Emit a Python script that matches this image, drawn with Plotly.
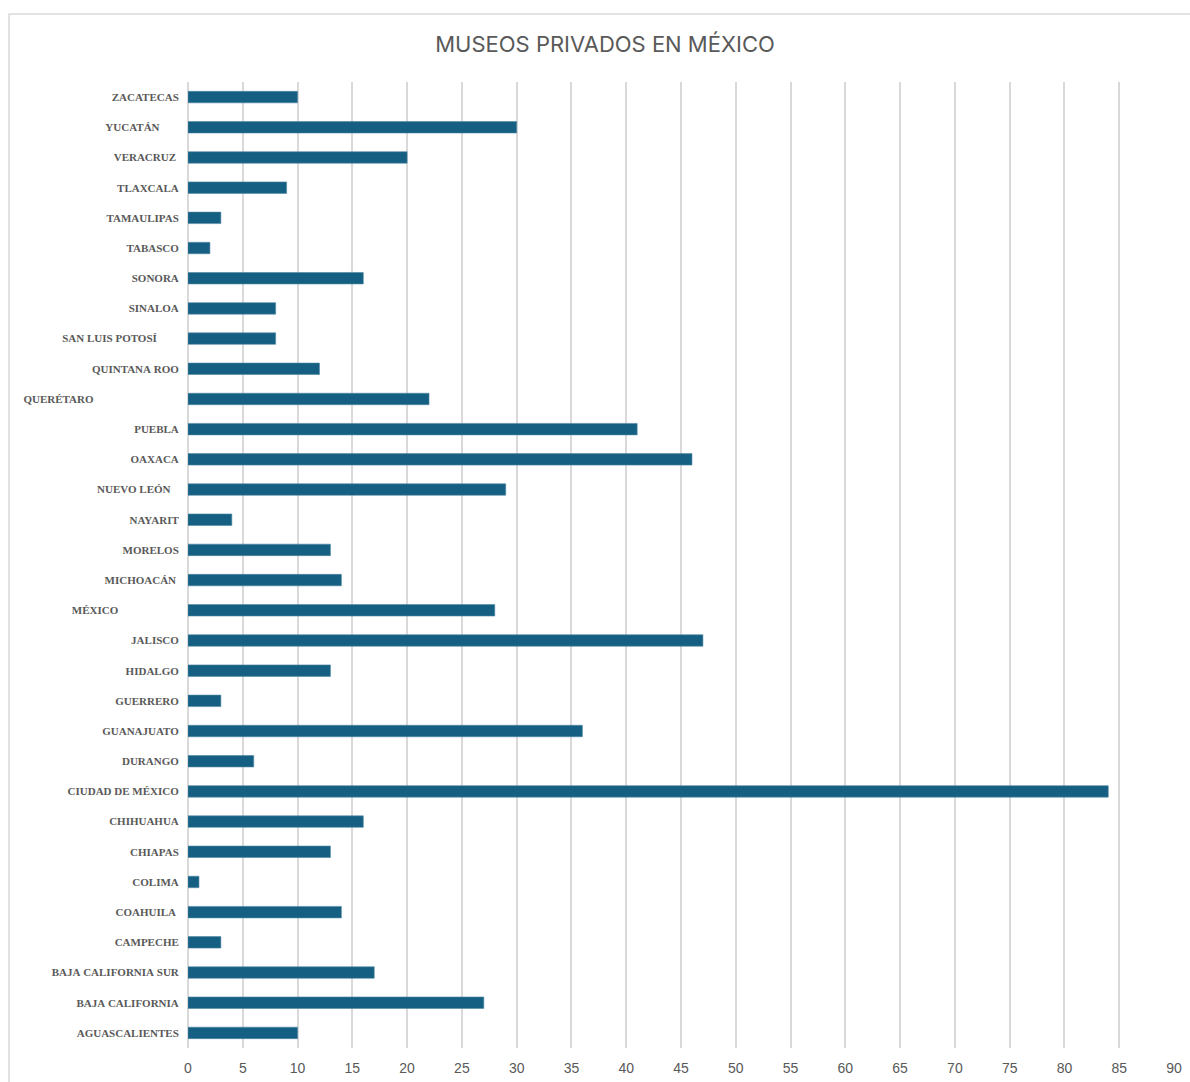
import plotly.graph_objects as go

# Categories bottom-to-top (trailing spaces as in the source labels)
states = [
    "AGUASCALIENTES", "BAJA CALIFORNIA", "BAJA CALIFORNIA SUR", "CAMPECHE",
    "COAHUILA ", "COLIMA", "CHIAPAS", "CHIHUAHUA", "CIUDAD DE MÉXICO",
    "DURANGO", "GUANAJUATO", "GUERRERO", "HIDALGO", "JALISCO",
    "MÉXICO" + " " * 22, "MICHOACÁN ", "MORELOS", "NAYARIT", "NUEVO LEÓN   ",
    "OAXACA", "PUEBLA", "QUERÉTARO" + " " * 31, "QUINTANA ROO",
    "SAN LUIS POTOSÍ" + " " * 8, "SINALOA", "SONORA", "TABASCO",
    "TAMAULIPAS", "TLAXCALA", "VERACRUZ ", "YUCATÁN" + " " * 7, "ZACATECAS",
]
museums = [
    10, 27, 17, 3,
    14, 1, 13, 16, 84,
    6, 36, 3, 13, 47,
    28, 14, 13, 4, 29,
    46, 41, 22, 12,
    8, 8, 16, 2,
    3, 9, 20, 30, 10,
]
x_ticks = list(range(0, 91, 5))

tick_text = [s.replace(" ", "\u00a0") for s in states]

fig = go.Figure()
fig.add_trace(go.Bar(
    x=museums,
    y=list(range(len(states))),
    orientation="h",
    marker=dict(color="#156082", line=dict(color="#4f86a3", width=0.6)),
    hoverinfo="x",
))

W, H = 1190, 1082
L, R, T, B = 188, 16, 82, 34
pw = W - L - R
ph = H - T - B

fig.update_layout(
    width=W, height=H,
    margin=dict(l=L, r=R, t=T, b=B, autoexpand=False),
    paper_bgcolor="white",
    plot_bgcolor="white",
    bargap=0.62,
    showlegend=False,
    title=dict(
        text="MUSEOS PRIVADOS EN MÉXICO",
        x=605 / W, xref="container", xanchor="center",
        y=1 - 44 / H, yref="container", yanchor="middle",
        font=dict(family="Inter, Open Sans, sans-serif", size=22, color="#595959"),
    ),
    xaxis=dict(
        range=[0, 90],
        tickvals=x_ticks,
        ticktext=[str(v) for v in x_ticks],
        showgrid=True,
        gridcolor="#d9d9d9",
        gridwidth=1.5,
        zeroline=True,
        zerolinecolor="#d9d9d9",
        zerolinewidth=1.5,
        showline=False,
        ticks="outside",
        ticklen=7,
        tickcolor="rgba(0,0,0,0)",
        tickfont=dict(family="Liberation Sans, Arial, sans-serif", size=14, color="#595959"),
        automargin=False,
        fixedrange=True,
    ),
    yaxis=dict(
        tickvals=list(range(len(states))),
        ticktext=tick_text,
        range=[-0.5, len(states) - 0.5],
        showgrid=False,
        zeroline=False,
        showline=False,
        ticks="outside",
        ticklen=6,
        tickcolor="rgba(0,0,0,0)",
        tickfont=dict(family="Liberation Serif, Times New Roman, serif", size=11,
                      color="#595959", weight="bold"),
        automargin=False,
        fixedrange=True,
    ),
)

# outer chart frame
fig.add_shape(
    type="rect",
    xref="paper", yref="paper",
    x0=(9 - L) / pw, x1=(1205 - L) / pw,
    y0=-(B + 10) / ph, y1=1 + (T - 14) / ph,
    line=dict(color="#d9d9d9", width=1.5),
    fillcolor="rgba(0,0,0,0)",
    layer="below",
)

fig.write_html("out.html")
